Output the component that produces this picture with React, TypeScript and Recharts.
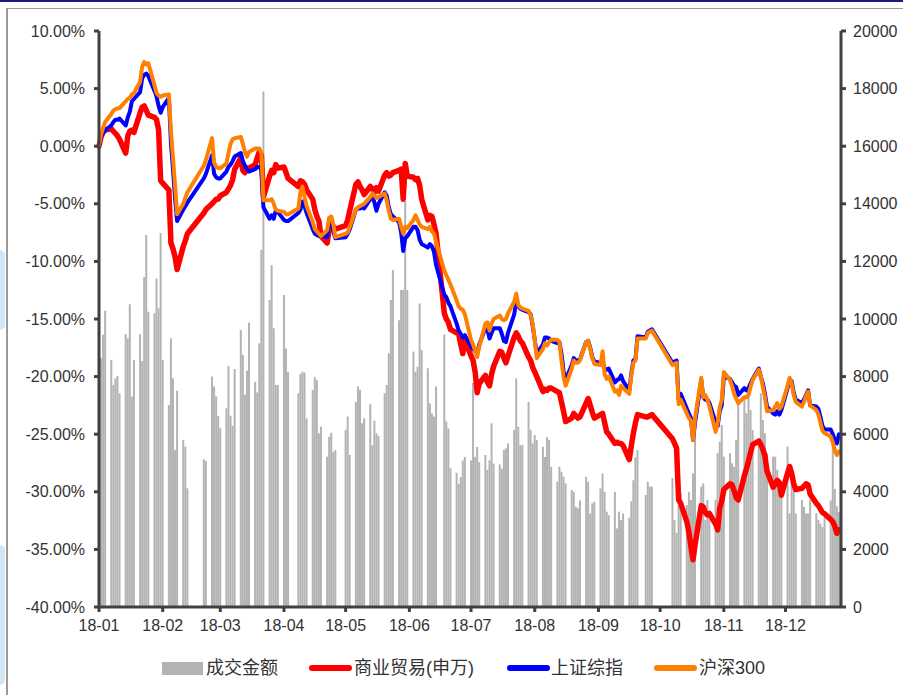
import React from 'react';
import { ComposedChart, Bar, Line, XAxis, YAxis } from 'recharts';

// Month tick labels and day-of-year offsets for 2018
const monthLabels = ['18-01', '18-02', '18-03', '18-04', '18-05', '18-06', '18-07', '18-08', '18-09', '18-10', '18-11', '18-12'];
const monthOffsets = [0, 31, 59, 90, 120, 151, 181, 212, 243, 273, 304, 334];

// Trading days (day of month) for each month of 2018
const tradingDays: number[][] = [
  [2, 3, 4, 5, 8, 9, 10, 11, 12, 15, 16, 17, 18, 19, 22, 23, 24, 25, 26, 29, 30, 31],
  [1, 2, 5, 6, 7, 8, 9, 12, 13, 14, 22, 23, 26, 27, 28],
  [1, 2, 5, 6, 7, 8, 9, 12, 13, 14, 15, 16, 19, 20, 21, 22, 23, 26, 27, 28, 29, 30],
  [2, 3, 4, 9, 10, 11, 12, 13, 16, 17, 18, 19, 20, 23, 24, 25, 26, 27],
  [2, 3, 4, 7, 8, 9, 10, 11, 14, 15, 16, 17, 18, 21, 22, 23, 24, 25, 28, 29, 30, 31],
  [1, 4, 5, 6, 7, 8, 11, 12, 13, 14, 15, 19, 20, 21, 22, 25, 26, 27, 28, 29],
  [2, 3, 4, 5, 6, 9, 10, 11, 12, 13, 16, 17, 18, 19, 20, 23, 24, 25, 26, 27, 30, 31],
  [1, 2, 3, 6, 7, 8, 9, 10, 13, 14, 15, 16, 17, 20, 21, 22, 23, 24, 27, 28, 29, 30, 31],
  [3, 4, 5, 6, 7, 10, 11, 12, 13, 14, 17, 18, 19, 20, 21, 25, 26, 27, 28],
  [8, 9, 10, 11, 12, 15, 16, 17, 18, 19, 22, 23, 24, 25, 26, 29, 30, 31],
  [1, 2, 5, 6, 7, 8, 9, 12, 13, 14, 15, 16, 19, 20, 21, 22, 23, 26, 27, 28, 29, 30],
  [3, 4, 5, 6, 7, 10, 11, 12, 13, 14, 17, 18, 19, 20, 21, 24, 25, 26, 27, 28],
];

// 成交金额 (right axis)
const turnover: number[][] = [
  [8000, 8650, 9450, 10290, 8580, 7710, 7940, 8020, 7420, 9480, 9330, 10510, 7300, 8580, 9470, 8540, 11460, 12920, 10250, 10200, 11410, 10370],
  [12990, 8580, 7010, 9330, 7940, 5450, 7510, 5800, 5570, 4120, 5130, 5070, 8000, 7660, 7310],
  [6640, 6210, 6900, 8370, 6640, 6290, 8260, 9620, 8750, 7370, 8210, 9870, 7820, 7450, 9160, 12400, 17900, 10660, 11870, 9680, 7710, 7710],
  [10830, 8980, 8170, 7420, 8090, 8170, 8140, 6550, 7540, 7980, 7880, 6030, 6260, 5220, 5910, 6050, 5390, 5450],
  [6150, 6610, 5280, 7120, 7660, 7540, 6380, 6550, 7040, 5620, 6470, 6030, 5940, 7420, 7710, 8810, 10660, 11700, 9960, 11010, 11010, 14100],
  [11010, 8870, 8170, 8340, 10540, 8920, 8290, 7070, 6720, 6610, 7660, 9450, 6440, 6200, 4820, 4660, 4280, 4510, 5090, 5210],
  [5090, 7780, 5210, 5560, 5030, 5280, 4760, 5090, 6380, 4980, 4950, 4800, 5450, 5510, 5680, 6150, 7940, 6260, 5620, 5620, 7120, 6150],
  [5680, 5970, 5800, 5560, 5210, 5900, 5800, 4870, 4350, 4870, 4700, 4530, 4290, 4060, 4000, 3480, 3430, 3700, 4520, 4350, 3250, 3600, 3660],
  [4120, 4640, 4000, 3310, 3190, 4000, 2730, 3310, 3020, 3250, 3100, 3670, 4400, 5200, 5450, 3890, 4350, 4180, 4180],
  [4480, 3020, 2570, 3540, 3950, 3540, 4000, 3720, 4640, 6670, 4180, 4290, 3020, 3720, 3370, 3720, 5340, 5740],
  [6320, 5220, 5340, 4990, 4870, 5800, 7070, 7300, 6730, 7710, 6840, 6150, 5860, 7420, 6490, 6030, 5340, 5220, 5220, 4760, 4410, 4350],
  [5570, 3250, 4870, 4060, 3250, 3720, 3480, 3250, 3250, 3720, 3260, 3020, 2900, 2780, 3130, 3700, 5700, 4100, 3500, 3300],
];

// 商业贸易(申万), cumulative change in %
const commerce: number[][] = [
  [0.0, 0.8, 1.2, 1.4, 1.5, 1.3, 1.1, 0.9, 0.6, -0.6, 0.9, 1.3, 1.4, 1.2, 2.9, 3.4, 3.5, 3.1, 2.7, 2.5, 2.3, 1.4],
  [-3.0, -3.2, -3.8, -8.4, -8.9, -9.6, -10.7, -8.7, -8.2, -7.6, -5.8, -5.5, -5.0, -4.8, -4.6],
  [-4.6, -4.3, -4.0, -3.7, -3.4, -2.9, -2.0, -1.0, -2.1, -2.3, -1.9, -1.9, -1.6, -1.0, -0.5, -0.8, -4.4, -2.6, -2.1, -2.3, -1.6, -1.9],
  [-1.8, -2.3, -2.8, -3.5, -3.0, -3.1, -3.3, -3.8, -4.6, -5.5, -6.1, -6.5, -7.8, -8.4, -7.2, -6.6, -7.0, -7.2],
  [-6.9, -6.4, -5.6, -3.3, -3.1, -3.5, -3.8, -4.2, -3.5, -3.7, -4.0, -3.6, -3.9, -2.5, -2.3, -2.6, -2.5, -2.3, -2.1, -2.0, -4.6, -1.5],
  [-2.6, -2.7, -2.9, -2.8, -3.4, -4.6, -6.4, -6.0, -6.1, -6.8, -7.6, -14.5, -15.0, -15.3, -15.9, -16.2, -16.3, -17.2, -18.0, -16.8],
  [-18.2, -18.6, -19.6, -21.4, -20.6, -19.9, -20.5, -20.8, -19.8, -19.1, -17.8, -17.9, -18.4, -18.8, -18.2, -16.6, -16.2, -16.5, -16.9, -17.1, -18.3, -18.6],
  [-19.2, -19.6, -20.0, -21.3, -21.1, -21.2, -21.0, -21.0, -21.3, -21.4, -22.2, -23.0, -23.9, -23.6, -23.2, -23.4, -23.6, -23.5, -22.3, -21.9, -22.5, -23.1, -23.6],
  [-23.3, -23.2, -24.0, -24.8, -25.0, -25.8, -25.7, -25.8, -25.8, -26.0, -27.2, -26.0, -24.9, -24.0, -23.3, -23.5, -23.5, -23.4, -23.3],
  [-25.4, -25.8, -26.2, -30.7, -31.0, -32.6, -33.5, -34.8, -35.9, -34.6, -31.2, -31.3, -31.8, -32.0, -31.9, -32.8, -33.3, -31.4],
  [-30.8, -29.8, -29.3, -29.4, -29.9, -30.5, -30.7, -28.6, -28.0, -27.3, -26.6, -25.9, -25.6, -25.9, -26.3, -26.9, -28.2, -29.6, -29.3, -29.0, -29.2, -30.3],
  [-28.4, -27.8, -28.4, -29.3, -29.8, -29.7, -29.5, -29.3, -29.4, -30.2, -31.0, -31.2, -31.5, -31.8, -31.9, -32.4, -32.6, -33.0, -33.6, -33.3],
];

// 上证综指, cumulative change in %
const sse: number[][] = [
  [0.0, 0.8, 1.2, 1.4, 1.8, 2.1, 2.3, 2.3, 2.4, 1.8, 2.5, 3.0, 3.9, 4.1, 4.7, 5.9, 6.2, 6.3, 6.1, 4.8, 4.3, 3.5],
  [2.9, 3.4, 4.2, 0.3, -2.0, -4.5, -6.5, -5.5, -5.2, -4.9, -2.8, -2.4, -0.8, -2.4, -2.7],
  [-2.8, -2.8, -2.2, -1.8, -1.6, -1.3, -0.9, -0.6, -1.3, -1.7, -2.0, -2.2, -2.0, -1.8, -1.8, -2.0, -5.3, -6.3, -6.0, -6.3, -5.6, -5.7],
  [-6.4, -6.5, -6.5, -5.8, -5.5, -4.8, -5.2, -5.8, -7.2, -7.6, -7.7, -7.8, -7.8, -7.9, -6.5, -6.3, -7.4, -8.0],
  [-7.9, -7.6, -7.2, -5.5, -5.4, -5.4, -5.3, -5.4, -4.6, -4.3, -4.9, -5.6, -5.0, -4.0, -4.3, -5.3, -5.9, -6.1, -6.6, -7.5, -9.1, -8.0],
  [-7.8, -7.0, -7.0, -7.3, -8.1, -8.5, -8.8, -8.5, -8.7, -9.2, -10.3, -12.9, -13.1, -13.6, -13.9, -15.4, -16.0, -16.3, -16.6, -16.4],
  [-17.4, -17.6, -17.8, -18.0, -17.2, -15.8, -15.9, -16.7, -16.2, -15.8, -15.8, -16.3, -16.9, -17.0, -16.2, -14.6, -13.5, -13.9, -14.1, -14.2, -14.4, -14.6],
  [-15.6, -16.8, -18.0, -17.2, -16.6, -16.6, -16.7, -16.9, -17.1, -17.0, -18.0, -19.5, -20.3, -19.0, -18.4, -18.6, -18.6, -18.5, -17.0, -16.9, -17.5, -18.3, -18.7],
  [-18.8, -18.7, -19.3, -19.4, -19.3, -20.5, -20.3, -20.2, -19.9, -20.4, -21.2, -19.7, -18.6, -18.5, -16.5, -16.6, -16.1, -16.0, -15.9],
  [-18.8, -18.7, -18.6, -22.0, -21.5, -22.8, -23.2, -23.6, -25.5, -24.0, -20.3, -21.8, -22.0, -22.0, -22.3, -24.0, -24.3, -23.0],
  [-22.5, -20.0, -20.2, -20.5, -20.8, -20.9, -21.6, -21.0, -21.2, -21.0, -20.6, -20.2, -19.3, -20.0, -20.6, -21.5, -22.6, -23.2, -23.3, -23.0, -23.3, -22.9],
  [-21.0, -20.3, -20.4, -21.4, -22.0, -22.3, -22.0, -21.6, -21.2, -22.5, -22.6, -22.8, -23.5, -24.3, -24.6, -24.6, -25.0, -25.5, -25.8, -25.0],
];

// 沪深300, cumulative change in %
const csi300: number[][] = [
  [0.0, 1.0, 1.6, 2.1, 2.8, 3.1, 3.2, 3.3, 3.3, 3.9, 4.1, 4.2, 4.5, 4.6, 5.6, 6.9, 7.3, 7.1, 7.2, 5.3, 4.6, 4.4],
  [4.3, 4.4, 4.5, 1.3, -1.0, -3.4, -5.9, -5.0, -4.5, -4.0, -1.7, -1.2, 0.7, -1.4, -1.8],
  [-1.9, -1.9, -1.5, -0.6, 0.2, 0.6, 0.7, 0.8, 0.2, -0.5, -0.9, -0.5, -0.2, -0.2, -0.2, -0.6, -4.7, -4.7, -4.6, -5.0, -5.5, -5.6],
  [-5.7, -5.9, -5.9, -5.4, -4.0, -3.5, -4.4, -5.2, -6.6, -7.2, -7.4, -7.6, -7.8, -7.3, -6.2, -6.1, -6.8, -7.9],
  [-7.6, -7.5, -7.0, -5.5, -5.3, -5.2, -5.1, -5.0, -4.4, -4.1, -4.3, -4.5, -4.4, -4.1, -4.7, -5.6, -6.3, -6.4, -6.3, -7.0, -7.6, -7.0],
  [-7.1, -6.4, -6.0, -6.4, -6.8, -7.0, -7.2, -7.0, -7.4, -7.6, -8.3, -10.8, -11.2, -11.6, -12.0, -13.4, -13.9, -14.1, -14.2, -14.6],
  [-16.8, -17.2, -17.8, -18.3, -17.4, -15.4, -15.3, -16.0, -15.4, -15.0, -14.7, -15.0, -15.1, -15.0, -14.5, -13.5, -12.8, -13.8, -14.0, -14.1, -14.3, -14.7],
  [-15.4, -16.8, -18.4, -17.6, -17.1, -17.3, -17.0, -16.8, -16.8, -17.0, -18.6, -20.0, -20.8, -19.3, -18.6, -18.8, -18.8, -18.6, -17.0, -16.9, -17.6, -18.4, -18.9],
  [-19.0, -17.8, -19.8, -20.2, -20.0, -21.3, -21.2, -21.6, -20.8, -21.0, -21.5, -19.9, -18.8, -18.6, -16.7, -16.7, -16.2, -16.1, -16.0],
  [-19.0, -18.9, -18.8, -22.4, -22.0, -23.2, -23.6, -23.8, -25.5, -23.6, -20.1, -21.8, -21.6, -22.0, -22.6, -24.8, -24.0, -22.7],
  [-22.0, -19.6, -20.3, -20.8, -21.5, -21.9, -22.3, -21.8, -21.8, -21.6, -20.9, -20.3, -19.4, -20.0, -20.9, -21.8, -23.0, -22.9, -22.6, -22.3, -22.8, -22.6],
  [-20.8, -20.1, -20.6, -21.6, -22.2, -22.6, -22.2, -21.7, -21.3, -22.5, -22.9, -23.3, -24.0, -24.7, -24.9, -25.2, -25.7, -26.4, -26.8, -26.5],
];

const pctTicks = [-40, -35, -30, -25, -20, -15, -10, -5, 0, 5, 10];
const volTicks = [0, 2000, 4000, 6000, 8000, 10000, 12000, 14000, 16000, 18000, 20000];
const monthTicks = monthOffsets.map((o) => o + 1);

type Row = { day: number; turnover: number; commerce: number; sse: number; csi300: number };

const rows: Row[] = [];
monthOffsets.forEach((offset, m) => {
  tradingDays[m].forEach((dom, i) => {
    rows.push({
      day: offset + dom - 1,
      turnover: turnover[m][i],
      commerce: commerce[m][i],
      sse: sse[m][i],
      csi300: csi300[m][i],
    });
  });
});

const AXIS = '#404040';
const TEXT = '#333333';
const latin = '"Liberation Sans", Arial, sans-serif';
const cjk = '"Liberation Sans", "Noto Sans CJK SC", sans-serif';

const tickStyle = { fill: TEXT, fontSize: 16, fontFamily: latin };
const axisLineStyle = { stroke: AXIS, strokeWidth: 3 };

const legendItems = [
  { label: '成交金额', color: '#b3b3b3', kind: 'box', swatchX: 162, textX: 206 },
  { label: '商业贸易(申万)', color: '#ff0000', kind: 'line', swatchX: 309, textX: 354 },
  { label: '上证综指', color: '#0000ff', kind: 'line', swatchX: 507, textX: 551 },
  { label: '沪深300', color: '#ff8000', kind: 'line', swatchX: 654, textX: 699 },
];

export default function App() {
  return (
    <div style={{ position: 'fixed', left: 0, top: 0, width: 903, height: 695, background: '#ffffff', overflow: 'hidden' }}>
      {/* page frame */}
      <div style={{ position: 'absolute', left: 0, top: 0, width: 903, height: 2, background: '#1b1b7e' }} />
      <div style={{ position: 'absolute', left: 6, top: 8, width: 897, height: 1, background: '#9a9a9a' }} />
      <div style={{ position: 'absolute', left: 6, top: 8, width: 1.5, height: 687, background: '#9a9a9a' }} />
      <div style={{ position: 'absolute', left: 0, top: 250, width: 5, height: 80, background: '#d3e6f5', borderRadius: '0 6px 6px 0' }} />
      <div style={{ position: 'absolute', left: 0, top: 545, width: 5, height: 140, background: '#d3e6f5', borderRadius: '0 6px 6px 0' }} />

      <div style={{ position: 'absolute', left: 0, top: 0 }}>
        <ComposedChart width={903} height={695} data={rows} margin={{ top: 31, right: 0, bottom: 0, left: 0 }}>
          <XAxis
            dataKey="day"
            type="number"
            domain={[1, 362]}
            ticks={monthTicks}
            interval={0}
            tickFormatter={(v: number) => monthLabels[monthTicks.indexOf(v)] ?? ''}
            axisLine={axisLineStyle}
            tickLine={axisLineStyle}
            tickSize={5}
            tickMargin={8}
            tick={tickStyle}
            height={88}
          />
          <YAxis
            yAxisId="pct"
            orientation="left"
            domain={[-40, 10]}
            ticks={pctTicks}
            interval={0}
            tickFormatter={(v: number) => `${v.toFixed(2)}%`}
            axisLine={axisLineStyle}
            tickLine={axisLineStyle}
            tickSize={5}
            tickMargin={9}
            tick={tickStyle}
            width={99}
          />
          <YAxis
            yAxisId="vol"
            orientation="right"
            domain={[0, 20000]}
            ticks={volTicks}
            interval={0}
            axisLine={axisLineStyle}
            tickLine={axisLineStyle}
            tickSize={5}
            tickMargin={7}
            tick={tickStyle}
            width={62}
          />
          <Bar yAxisId="vol" dataKey="turnover" fill="#b3b3b3" barSize={2} isAnimationActive={false} />
          <Line yAxisId="pct" type="linear" dataKey="commerce" stroke="#ff0000" strokeWidth={5.5} dot={false} activeDot={false} strokeLinejoin="round" strokeLinecap="round" isAnimationActive={false} />
          <Line yAxisId="pct" type="linear" dataKey="sse" stroke="#0000ff" strokeWidth={4} dot={false} activeDot={false} strokeLinejoin="round" strokeLinecap="round" isAnimationActive={false} />
          <Line yAxisId="pct" type="linear" dataKey="csi300" stroke="#ff8000" strokeWidth={4} dot={false} activeDot={false} strokeLinejoin="round" strokeLinecap="round" isAnimationActive={false} />
        </ComposedChart>
      </div>

      {/* legend */}
      {legendItems.map((it) => (
        <React.Fragment key={it.label}>
          {it.kind === 'box' ? (
            <div style={{ position: 'absolute', left: it.swatchX, top: 662, width: 41, height: 13, background: it.color }} />
          ) : (
            <div style={{ position: 'absolute', left: it.swatchX, top: 665, width: 43, height: 6, borderRadius: 3, background: it.color }} />
          )}
          <div style={{ position: 'absolute', left: it.textX, top: 656, height: 24, lineHeight: '24px', fontSize: 18, fontFamily: cjk, color: TEXT, whiteSpace: 'nowrap' }}>
            {it.label}
          </div>
        </React.Fragment>
      ))}
    </div>
  );
}
